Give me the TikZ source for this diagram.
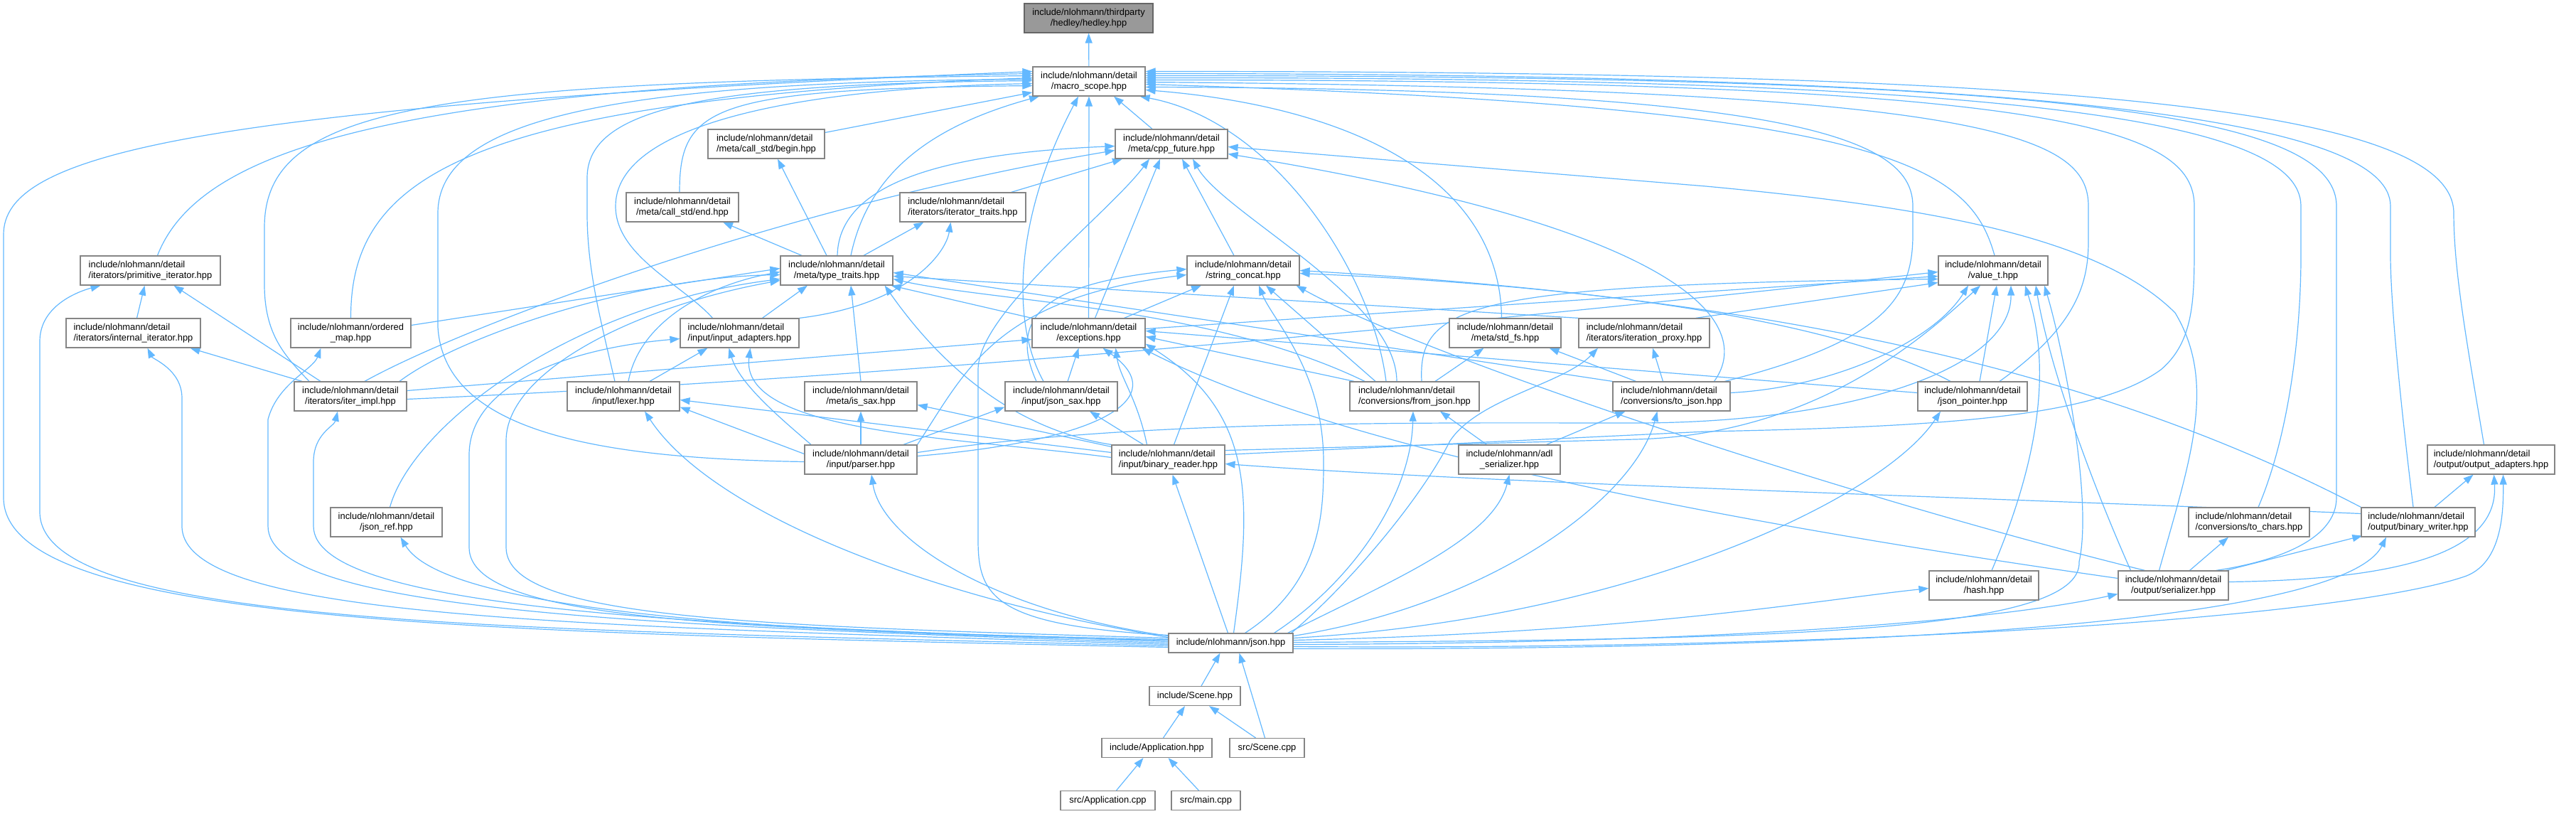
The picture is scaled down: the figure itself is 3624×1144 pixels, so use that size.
\documentclass[tikz,border=0pt]{standalone}
\usepackage{fontspec}
\setmainfont{Liberation Sans}
\usetikzlibrary{arrows.meta}
\definecolor{edgec}{HTML}{63B8FF}
\definecolor{nodeborder}{HTML}{858585}
\definecolor{hedfill}{HTML}{999999}
\definecolor{hedborder}{HTML}{666666}
\pgfdeclarelayer{edgelayer}
\pgfsetlayers{edgelayer,main}
\newcommand\nlab[2]{\begingroup\setbox0\hbox{#1}\setbox2\hbox{#2}%
  \ifdim\wd0>\wd2 \dimen0=\wd0 \else \dimen0=\wd2 \fi
  \vbox{\hbox to\dimen0{\box0\hfil}\hbox to\dimen0{\hfil\box2\hfil}}\endgroup}
\begin{document}
\begin{tikzpicture}[x=1pt,y=1pt,
  filebox/.style={draw=nodeborder, line width=1.2pt, fill=white, inner sep=0pt,
    minimum height=41pt, font=\fontsize{12.9}{15}\selectfont},
  onebox/.style={filebox, minimum height=27pt},
  edg/.style={draw=edgec, line width=1.2pt, -{Triangle[length=14pt,width=10pt]}}]
\useasboundingbox (0,0) rectangle (3624,-1144);
% ---------------- nodes ----------------
\node[filebox, fill=hedfill, draw=hedborder, minimum width=181pt] (hedley) at (1531.5,-25.5) {\nlab{include/nlohmann/thirdparty}{/hedley/hedley.hpp}};
\node[filebox, minimum width=158pt] (macro) at (1532,-114.5) {\nlab{include/nlohmann/detail}{/macro\_scope.hpp}};
\node[filebox, minimum width=158pt] (cppf) at (1648,-202.5) {\nlab{include/nlohmann/detail}{/meta/cpp\_future.hpp}};
\node[filebox, minimum width=164pt] (cbegin) at (1078,-202.5) {\nlab{include/nlohmann/detail}{/meta/call\_std/begin.hpp}};
\node[filebox, minimum width=158pt] (cend) at (960,-291.5) {\nlab{include/nlohmann/detail}{/meta/call\_std/end.hpp}};
\node[filebox, minimum width=177pt] (itertr) at (1354.5,-291.5) {\nlab{include/nlohmann/detail}{/iterators/iterator\_traits.hpp}};
\node[filebox, minimum width=197pt] (primit) at (211.5,-380.5) {\nlab{include/nlohmann/detail}{/iterators/primitive\_iterator.hpp}};
\node[filebox, minimum width=158pt] (typetr) at (1177,-380.5) {\nlab{include/nlohmann/detail}{/meta/type\_traits.hpp}};
\node[filebox, minimum width=158pt] (strcat) at (1749,-380.5) {\nlab{include/nlohmann/detail}{/string\_concat.hpp}};
\node[filebox, minimum width=154pt] (valuet) at (2804,-380.5) {\nlab{include/nlohmann/detail}{/value\_t.hpp}};
\node[filebox, minimum width=189pt] (internal) at (187.5,-468.5) {\nlab{include/nlohmann/detail}{/iterators/internal\_iterator.hpp}};
\node[filebox, minimum width=169pt] (ordmap) at (493.5,-468.5) {\nlab{include/nlohmann/ordered}{\_map.hpp}};
\node[filebox, minimum width=167pt] (inadapt) at (1040.5,-468.5) {\nlab{include/nlohmann/detail}{/input/input\_adapters.hpp}};
\node[filebox, minimum width=159pt] (except) at (1531.5,-468.5) {\nlab{include/nlohmann/detail}{/exceptions.hpp}};
\node[filebox, minimum width=157pt] (stdfs) at (2117.5,-468.5) {\nlab{include/nlohmann/detail}{/meta/std\_fs.hpp}};
\node[filebox, minimum width=184pt] (iterprox) at (2313,-468.5) {\nlab{include/nlohmann/detail}{/iterators/iteration\_proxy.hpp}};
\node[filebox, minimum width=158pt] (iterimpl) at (493,-557.5) {\nlab{include/nlohmann/detail}{/iterators/iter\_impl.hpp}};
\node[filebox, minimum width=158pt] (lexer) at (877,-557.5) {\nlab{include/nlohmann/detail}{/input/lexer.hpp}};
\node[filebox, minimum width=158pt] (issax) at (1211,-557.5) {\nlab{include/nlohmann/detail}{/meta/is\_sax.hpp}};
\node[filebox, minimum width=158pt] (jsonsax) at (1493,-557.5) {\nlab{include/nlohmann/detail}{/input/json\_sax.hpp}};
\node[filebox, minimum width=182pt] (fromjson) at (1990,-557.5) {\nlab{include/nlohmann/detail}{/conversions/from\_json.hpp}};
\node[filebox, minimum width=165pt] (tojson) at (2351.5,-557.5) {\nlab{include/nlohmann/detail}{/conversions/to\_json.hpp}};
\node[filebox, minimum width=154pt] (jptr) at (2775,-557.5) {\nlab{include/nlohmann/detail}{/json\_pointer.hpp}};
\node[filebox, minimum width=158pt] (parser) at (1211,-646.5) {\nlab{include/nlohmann/detail}{/input/parser.hpp}};
\node[filebox, minimum width=159pt] (binread) at (1643.5,-646.5) {\nlab{include/nlohmann/detail}{/input/binary\_reader.hpp}};
\node[filebox, minimum width=143pt] (adl) at (2123.5,-646.5) {\nlab{include/nlohmann/adl}{\_serializer.hpp}};
\node[filebox, minimum width=179pt] (outadapt) at (3504.5,-646.5) {\nlab{include/nlohmann/detail}{/output/output\_adapters.hpp}};
\node[filebox, minimum width=157pt] (jsonref) at (543.5,-734.5) {\nlab{include/nlohmann/detail}{/json\_ref.hpp}};
\node[filebox, minimum width=170pt] (tochars) at (3164,-734.5) {\nlab{include/nlohmann/detail}{/conversions/to\_chars.hpp}};
\node[filebox, minimum width=160pt] (binwrite) at (3402,-734.5) {\nlab{include/nlohmann/detail}{/output/binary\_writer.hpp}};
\node[filebox, minimum width=154pt] (hash) at (2791,-823.5) {\nlab{include/nlohmann/detail}{/hash.hpp}};
\node[filebox, minimum width=155pt] (serial) at (3057.5,-823.5) {\nlab{include/nlohmann/detail}{/output/serializer.hpp}};
\node[onebox, minimum width=175pt] (json) at (1731.5,-904.5) {include/nlohmann/json.hpp};
\node[onebox, minimum width=128pt] (scenehpp) at (1681,-979) {include/Scene.hpp};
\node[onebox, minimum width=155pt] (apphpp) at (1627.5,-1052) {include/Application.hpp};
\node[onebox, minimum width=105pt] (scenecpp) at (1782.5,-1052) {src/Scene.cpp};
\node[onebox, minimum width=133pt] (appcpp) at (1558.5,-1126) {src/Application.cpp};
\node[onebox, minimum width=97pt] (maincpp) at (1696.5,-1126) {src/main.cpp};
% ---------------- edges ----------------
\begin{pgfonlayer}{edgelayer}
\draw[edg] (macro) -- (hedley);
% into macro_scope
\draw[edg] ([xshift=-27pt]cppf.north) -- ([xshift=35pt]macro.south);
\draw[edg] (cbegin) -- (macro);
\draw[edg] ([xshift=-4pt]cend.north) .. controls (956,-150) and (1000,-125) .. ([yshift=-6pt]macro.west);
\draw[edg] ([xshift=68pt]itertr.north) -- ([xshift=-69pt]cppf.south);
\draw[edg] ([xshift=38pt]typetr.north) -- ([xshift=-55pt]itertr.south);
\draw[edg] ([xshift=20pt]typetr.north) .. controls (1220,-250) and (1300,-180) .. ([xshift=-70pt]macro.south);
\draw[edg] ([xshift=-14pt]typetr.north) -- ([xshift=16pt]cbegin.south);
\draw[edg] ([xshift=-49pt]typetr.north) -- ([xshift=57pt]cend.south);
\draw[edg] ([xshift=1pt]typetr.north) .. controls (1180,-250) and (1350,-215) .. ([yshift=-3pt]cppf.west);
\draw[edg] ([xshift=-13pt]strcat.north) -- ([xshift=15pt]cppf.south);
\draw[edg] ([xshift=2pt]valuet.north) .. controls (2770,-230) and (2650,-150) .. ([yshift=-4pt]macro.east);
\draw[edg] ([xshift=10pt]primit.north) .. controls (280,-210) and (550,-120) .. ([yshift=11pt]macro.west);
\draw[edg] ([xshift=5pt]internal.north) -- ([xshift=-8pt]primit.south);
% exceptions
\draw[edg] ([yshift=6pt]except.east) -- ([yshift=-8pt]valuet.west);
\draw[edg] (except) -- (macro);
\draw[edg] ([xshift=9pt]except.north) -- ([xshift=-16pt]cppf.south);
\draw[edg] (except.north west) -- ([xshift=-3pt]typetr.south east);
\draw[edg] ([xshift=50pt]except.north) -- ([xshift=-59pt]strcat.south);
% ordered_map, input_adapters, std_fs, iteration_proxy
\draw[edg] (ordmap.north) .. controls (493,-250) and (650,-140) .. ([yshift=5pt]macro.west);
\draw[edg] ([yshift=11pt]ordmap.east) -- ([yshift=3pt]typetr.west);
\draw[edg] (inadapt.north east) .. controls (1270,-430) and (1330,-360) .. ([xshift=-17pt]itertr.south);
\draw[edg] ([xshift=-38pt]inadapt.north) .. controls (960,-400) and (866,-360) .. (866,-290) .. controls (866,-180) and (1100,-125) .. ([yshift=-3pt]macro.west);
\draw[edg] ([xshift=32pt]inadapt.north) -- ([xshift=-41pt]typetr.south);
\draw[edg] ([xshift=-5pt]stdfs.north) .. controls (2110,-250) and (1900,-150) .. ([yshift=-12pt]macro.east);
\draw[edg] (iterprox.north west) -- ([yshift=-8pt]typetr.east);
\draw[edg] ([xshift=-20pt]iterprox.north east) -- ([yshift=-17pt]valuet.west);
% iter_impl
\draw[edg] ([yshift=8pt]iterimpl.east) -- ([yshift=-9pt]except.west);
\draw[edg] ([xshift=-68pt]iterimpl.north) -- ([xshift=80pt]internal.south);
\draw[edg] ([xshift=-58pt]iterimpl.north) .. controls (400,-500) and (372,-470) .. (372,-400) -- (372,-320) .. controls (372,-150) and (600,-115) .. ([yshift=8pt]macro.west);
\draw[edg] ([xshift=20pt]iterimpl.north) .. controls (650,-460) and (1100,-290) .. ([yshift=-9pt]cppf.west);
\draw[edg] ([xshift=69pt]iterimpl.north) .. controls (650,-470) and (900,-390) .. ([yshift=-6pt]typetr.west);
\draw[edg] ([yshift=-4pt]iterimpl.east) .. controls (1400,-525) and (2300,-430) .. ([yshift=-2pt]valuet.west);
\draw[edg] ([xshift=-42pt]iterimpl.north) -- ([xshift=33pt]primit.south);
% lexer, is_sax, json_sax
\draw[edg] ([xshift=37pt]lexer.north) -- ([xshift=-45pt]inadapt.south);
\draw[edg] ([xshift=-12pt]lexer.north) .. controls (845,-450) and (826,-380) .. (826,-300) -- (826,-250) .. controls (826,-150) and (1000,-118) .. ([yshift=1pt]macro.west);
\draw[edg] ([xshift=7pt]lexer.north) .. controls (900,-450) and (1000,-400) .. ([yshift=-2pt]typetr.west);
\draw[edg] (issax.north) -- ([xshift=20pt]typetr.south);
\draw[edg] ([xshift=9pt]jsonsax.north) -- ([xshift=-14pt]except.south);
\draw[edg] ([xshift=-25pt]jsonsax.north) .. controls (1420,-450) and (1430,-300) .. ([xshift=-15pt]macro.south);
\draw[edg] ([xshift=-35pt]jsonsax.north) .. controls (1410,-430) and (1500,-395) .. ([yshift=2pt]strcat.west);
% from_json
\draw[edg] ([xshift=-85pt]fromjson.north) -- ([yshift=-5pt]except.east);
\draw[edg] ([xshift=-40pt]fromjson.north) .. controls (1930,-380) and (1790,-170) .. ([xshift=-8pt]macro.south east);
\draw[edg] ([xshift=-25pt]fromjson.north) .. controls (1965,-420) and (1720,-300) .. ([xshift=30pt]cppf.south);
\draw[edg] ([xshift=29pt]fromjson.north) -- ([xshift=-30pt]stdfs.south);
\draw[edg] ([xshift=-70pt]fromjson.north) .. controls (1700,-430) and (1400,-425) .. ([yshift=-12pt]typetr.east);
\draw[edg] ([xshift=-55pt]fromjson.north) -- ([xshift=32pt]strcat.south);
\draw[edg] ([xshift=10pt]fromjson.north) .. controls (1995,-430) and (2060,-400) .. ([yshift=-12pt]valuet.west);
% to_json
\draw[edg] ([xshift=75pt]tojson.north) .. controls (2650,-480) and (2691,-420) .. (2691,-330) -- (2691,-290) .. controls (2691,-200) and (2550,-125) .. ([yshift=-8pt]macro.east);
\draw[edg] ([xshift=-12pt]tojson.north) -- ([xshift=12pt]iterprox.south);
\draw[edg] ([xshift=60pt]tojson.north) .. controls (2460,-470) and (2420,-330) .. ([yshift=-14pt]cppf.east);
\draw[edg] ([xshift=-50pt]tojson.north) -- ([xshift=62pt]stdfs.south);
\draw[edg] (tojson.north west) -- ([yshift=-3pt]typetr.east);
\draw[edg] ([yshift=5pt]tojson.east) .. controls (2580,-545) and (2720,-480) .. ([xshift=-35pt]valuet.south);
% json_pointer
\draw[edg] ([yshift=5pt]jptr.west) -- ([yshift=3pt]except.east);
\draw[edg] ([xshift=38pt]jptr.north) .. controls (2920,-460) and (2938,-400) .. (2938,-340) -- (2938,-290) .. controls (2938,-190) and (2800,-125) .. ([yshift=-1pt]macro.east);
\draw[edg] ([xshift=-31pt]jptr.north) .. controls (2600,-460) and (2300,-405) .. ([yshift=-4pt]strcat.east);
\draw[edg] ([xshift=10pt]jptr.north) -- ([xshift=5pt]valuet.south);
% parser
\draw[edg] ([yshift=5pt]parser.east) .. controls (1550,-620) and (1650,-560) .. ([xshift=20pt]except.south);
\draw[edg] ([xshift=-70pt]parser.north) .. controls (1100,-590) and (1040,-540) .. ([xshift=-15pt]inadapt.south);
\draw[edg] ([xshift=60pt]parser.north) -- ([yshift=-15pt]jsonsax.west);
\draw[edg] ([yshift=8pt]parser.west) -- ([yshift=-15pt]lexer.east);
\draw[edg] ([yshift=-3pt]parser.west) .. controls (850,-645) and (625,-610) .. (616,-460) -- (616,-300) .. controls (616,-170) and (850,-115) .. ([yshift=3pt]macro.west);
\draw[edg] (parser) -- (issax);
\draw[edg] (parser.north east) .. controls (1360,-520) and (1400,-420) .. ([yshift=-6pt]strcat.west);
\draw[edg] ([yshift=10pt]parser.east) .. controls (1600,-590) and (2000,-595) .. (2300,-595) .. controls (2600,-595) and (2830,-520) .. ([xshift=25pt]valuet.south);
% binary_reader
\draw[edg] ([xshift=-30pt]binread.north) .. controls (1600,-560) and (1575,-530) .. ([xshift=38pt]except.south);
\draw[edg] ([yshift=3pt]binread.west) .. controls (1350,-615) and (1040,-610) .. ([xshift=15pt]inadapt.south);
\draw[edg] ([xshift=-35pt]binread.north) -- ([xshift=40pt]jsonsax.south);
\draw[edg] ([yshift=10pt]binread.west) -- ([yshift=-5pt]lexer.east);
\draw[edg] ([yshift=7pt]binread.east) -- (2400,-607) .. controls (2750,-600) and (2950,-585) .. (3040,-520) .. controls (3087,-480) and (3087,-420) .. (3087,-340) -- (3087,-290) .. controls (3087,-180) and (2900,-112) .. ([yshift=2pt]macro.east);
\draw[edg] ([yshift=-3pt]binread.north west) -- ([yshift=-12pt]issax.east);
\draw[edg] (binread.north west) .. controls (1400,-600) and (1300,-480) .. ([xshift=-12pt]typetr.south east);
\draw[edg] ([xshift=8pt]binread.north) -- ([xshift=-13pt]strcat.south);
\draw[edg] ([yshift=13pt]binread.east) -- (2300,-618) .. controls (2550,-612) and (2700,-480) .. ([xshift=-18pt]valuet.south);
% adl_serializer
\draw[edg] ([xshift=-32pt]adl.north) -- ([xshift=36pt]fromjson.south);
\draw[edg] ([xshift=52pt]adl.north) -- ([xshift=-65pt]tojson.south);
% output side
\draw[edg] ([xshift=-10pt]outadapt.north) .. controls (3470,-480) and (3452,-380) .. (3452,-300) .. controls (3452,-150) and (2900,-100) .. ([yshift=14pt]macro.east);
\draw[edg] ([xshift=5pt]jsonref.north) .. controls (580,-600) and (800,-430) .. ([yshift=-12pt]typetr.west);
\draw[edg] ([xshift=13pt]tochars.north) .. controls (3225,-600) and (3237,-450) .. (3237,-360) -- (3237,-290) .. controls (3237,-170) and (2850,-108) .. ([yshift=5pt]macro.east);
\draw[edg] ([yshift=12pt]binwrite.west) .. controls (2800,-700) and (2100,-680) .. ([yshift=-6pt]binread.east);
\draw[edg] ([xshift=-7pt]binwrite.north) .. controls (3375,-550) and (3363,-420) .. (3363,-360) -- (3363,-290) .. controls (3363,-170) and (2900,-104) .. ([yshift=11pt]macro.east);
\draw[edg] ([xshift=23pt]binwrite.north) -- ([xshift=-25pt]outadapt.south);
\draw[edg] (binwrite.north west) .. controls (2950,-520) and (2500,-420) .. (strcat.east);
\draw[edg] ([xshift=11pt]hash.north) .. controls (2880,-620) and (2880,-500) .. ([xshift=45pt]valuet.south);
\draw[edg] ([xshift=23pt]serial.north) -- ([xshift=-29pt]tochars.south);
\draw[edg] ([yshift=10pt]serial.west) .. controls (2500,-745) and (1900,-640) .. ([xshift=-5pt]except.south east);
\draw[edg] ([xshift=60pt]serial.north) .. controls (3200,-790) and (3287,-760) .. (3287,-700) -- (3287,-290) .. controls (3287,-160) and (2900,-106) .. ([yshift=8pt]macro.east);
\draw[edg] ([xshift=-20pt]serial.north) .. controls (3080,-650) and (3120,-540) .. (3060,-440) .. controls (2950,-330) and (2700,-290) .. (2400,-262) -- ([yshift=-4pt]cppf.east);
\draw[edg] ([xshift=-4pt]serial.north east) -- ([xshift=2pt,yshift=2pt]binwrite.south west);
\draw[edg] ([yshift=5pt]serial.east) .. controls (3400,-815) and (3515,-770) .. ([xshift=4pt]outadapt.south);
\draw[edg] ([xshift=-40pt]serial.north) .. controls (2600,-700) and (2000,-500) .. ([xshift=-5pt]strcat.south east);
\draw[edg] ([xshift=-60pt]serial.north) .. controls (2930,-650) and (2880,-500) .. ([xshift=60pt]valuet.south);
% json.hpp
\draw[edg] ([yshift=-6pt]json.west) .. controls (700,-890) and (5,-880) .. (5,-700) -- (5,-330) .. controls (5,-220) and (250,-150) .. ([yshift=14pt]macro.west);
\draw[edg] ([yshift=-4pt]json.west) .. controls (700,-885) and (56,-880) .. (56,-720) -- (56,-480) .. controls (56,-430) and (110,-410) .. ([xshift=-70pt]primit.south);
\draw[edg] ([yshift=-2pt]json.west) .. controls (800,-880) and (256,-870) .. (256,-740) -- (256,-560) .. controls (256,-520) and (215,-505) .. ([xshift=20pt]internal.south);
\draw[edg] (json.west) .. controls (900,-880) and (377,-860) .. (377,-740) -- (377,-590) .. controls (390,-540) and (440,-520) .. ([xshift=-42pt]ordmap.south);
\draw[edg] ([yshift=2pt]json.west) .. controls (1000,-880) and (441,-860) .. (441,-740) -- (441,-650) .. controls (441,-610) and (470,-600) .. ([xshift=-18pt]iterimpl.south);
\draw[edg] ([yshift=4pt]json.west) .. controls (1000,-890) and (620,-850) .. ([xshift=20pt]jsonref.south);
\draw[edg] ([yshift=5pt]json.west) .. controls (1000,-885) and (660,-870) .. (660,-770) -- (660,-640) .. controls (660,-540) and (800,-490) .. ([yshift=-8pt]inadapt.west);
\draw[edg] ([yshift=7pt]json.west) .. controls (1050,-880) and (712,-870) .. (712,-770) -- (712,-620) .. controls (712,-520) and (900,-430) .. ([yshift=-14pt]typetr.west);
\draw[edg] ([yshift=8pt]json.west) .. controls (1300,-840) and (1000,-720) .. ([xshift=30pt]lexer.south);
\draw[edg] ([yshift=10pt]json.west) .. controls (1400,-860) and (1240,-760) .. ([xshift=15pt]parser.south);
\draw[edg] ([yshift=11pt]json.west) .. controls (1400,-880) and (1376,-840) .. (1376,-760) -- (1376,-520) .. controls (1376,-440) and (1560,-300) .. ([xshift=-31pt]cppf.south);
\draw[edg] ([xshift=-4pt]json.north) -- ([xshift=6pt]binread.south);
\draw[edg] ([xshift=4pt]json.north) .. controls (1762,-700) and (1765,-580) .. ([yshift=6pt]except.south east);
\draw[edg] ([xshift=20pt]json.north) .. controls (1860,-820) and (1862,-720) .. (1862,-650) .. controls (1862,-520) and (1790,-450) .. ([xshift=22pt]strcat.south);
\draw[edg] ([xshift=61pt]json.north) .. controls (1900,-820) and (1985,-700) .. ([xshift=-2pt]fromjson.south);
\draw[edg] ([xshift=-8pt]json.north east) .. controls (1950,-820) and (2100,-760) .. (adl.south);
\draw[edg] ([xshift=-3pt]json.north east) .. controls (1900,-820) and (2000,-700) .. (2040,-620) .. controls (2080,-560) and (2200,-540) .. ([xshift=-65pt]iterprox.south);
\draw[edg] ([yshift=10pt]json.east) .. controls (2100,-850) and (2300,-700) .. ([xshift=-20pt]tojson.south);
\draw[edg] ([yshift=7pt]json.east) .. controls (2300,-870) and (2650,-700) .. ([xshift=-45pt]jptr.south);
\draw[edg] ([yshift=4pt]json.east) .. controls (2300,-890) and (2550,-845) .. ([yshift=-4pt]hash.west);
\draw[edg] ([yshift=1pt]json.east) .. controls (2500,-900) and (2930,-890) .. (2925,-790) .. controls (2945,-700) and (2900,-480) .. ([xshift=72pt]valuet.south);
\draw[edg] ([yshift=-2pt]json.east) .. controls (2400,-905) and (2800,-875) .. ([yshift=-12pt]serial.west);
\draw[edg] ([yshift=-5pt]json.east) .. controls (2600,-915) and (3300,-870) .. (3470,-810) .. controls (3520,-790) and (3522,-720) .. ([xshift=17pt]outadapt.south);
\draw[edg] ([yshift=-8pt]json.east) .. controls (2700,-915) and (3300,-870) .. ([xshift=-45pt]binwrite.south);
% bottom part
\draw[edg] ([xshift=9pt]scenehpp.north) -- ([xshift=-15pt]json.south);
\draw[edg] ([xshift=-3pt]scenecpp.north) -- ([xshift=12pt]json.south);
\draw[edg] ([xshift=9pt]apphpp.north) -- ([xshift=-14pt]scenehpp.south);
\draw[edg] ([xshift=-16pt]scenecpp.north) -- ([xshift=20pt]scenehpp.south);
\draw[edg] ([xshift=12pt]appcpp.north) -- ([xshift=-19pt]apphpp.south);
\draw[edg] ([xshift=-10pt]maincpp.north) -- ([xshift=16pt]apphpp.south);
\end{pgfonlayer}
\end{tikzpicture}
\end{document}
